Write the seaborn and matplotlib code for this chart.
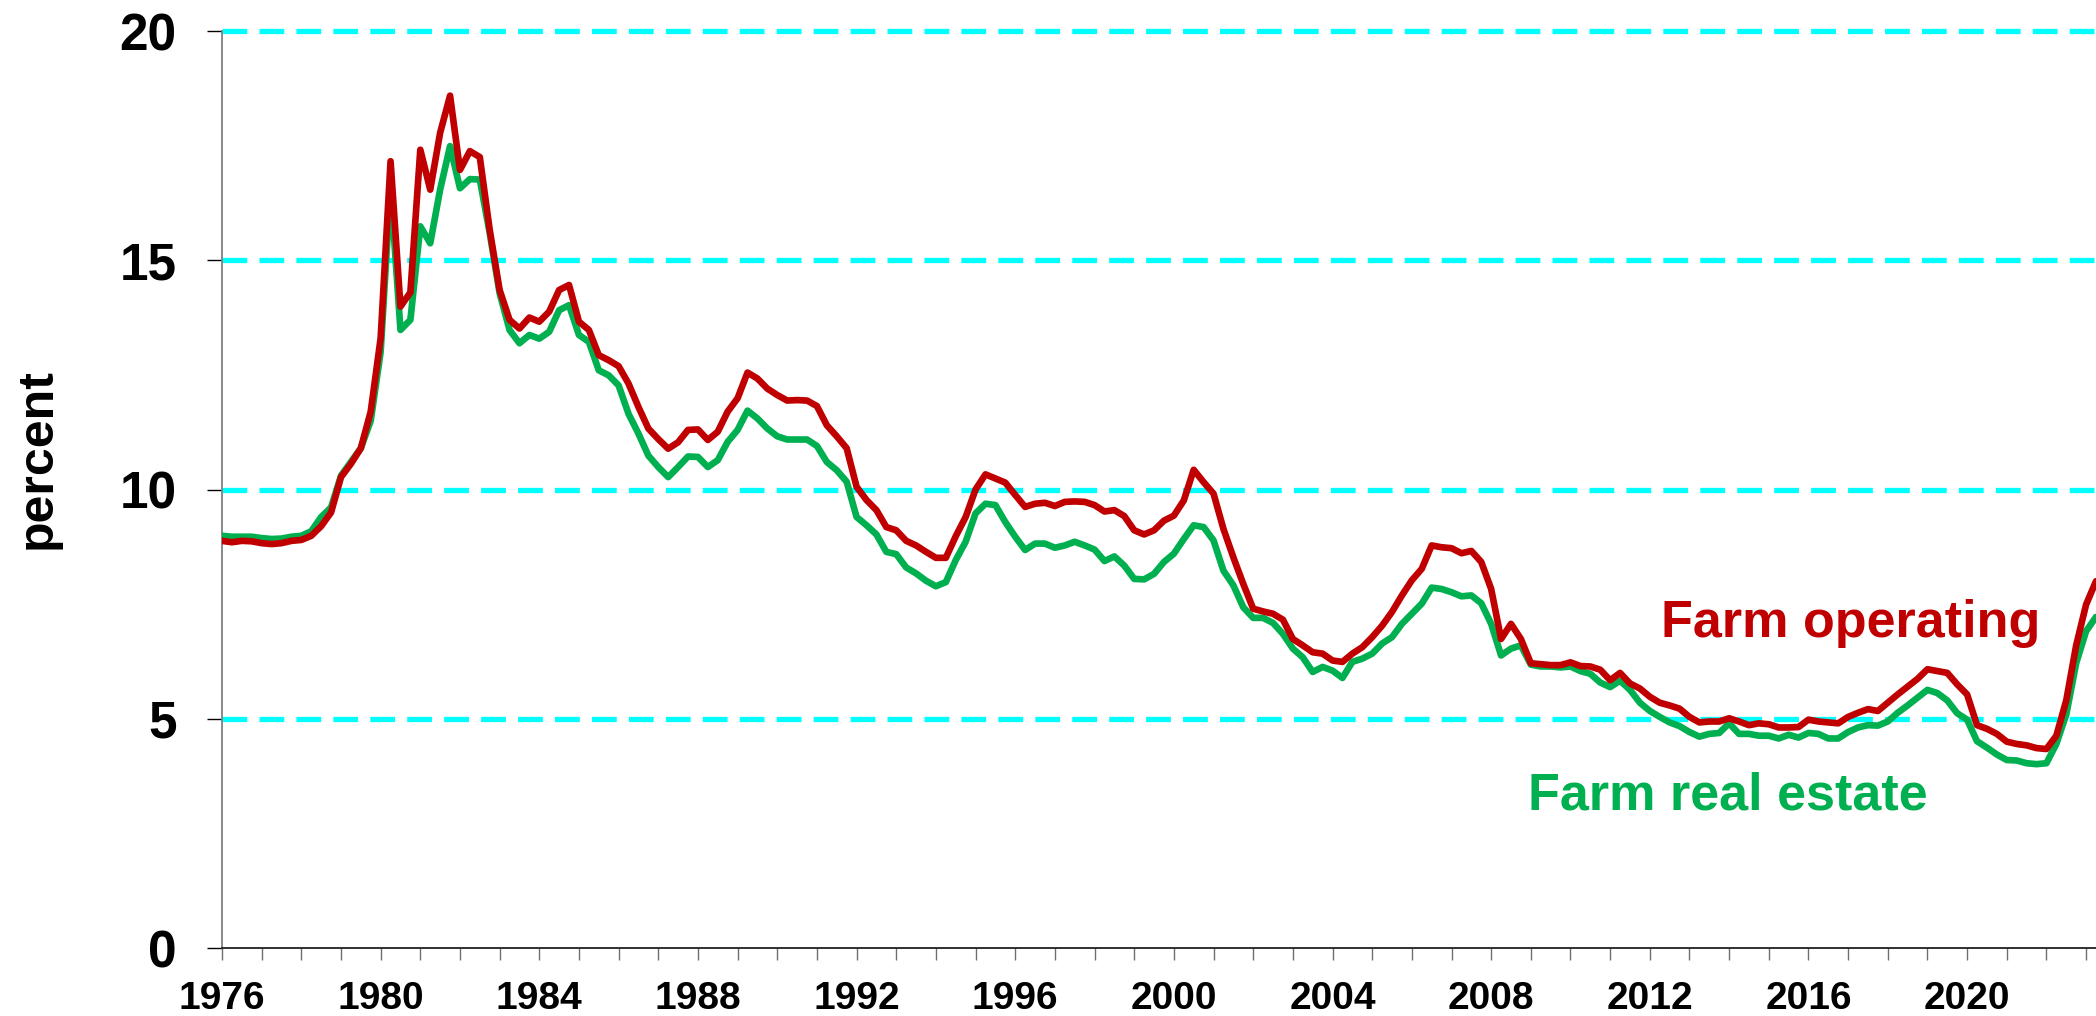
import numpy as np
import pandas as pd
import matplotlib
matplotlib.use("Agg")
import matplotlib.pyplot as plt
import seaborn as sns

# Quarterly interest rates on farm loans, percent (1976 Q1 onward)
start_year = 1976
farm_operating = [
    8.88, 8.85, 8.88, 8.87,   # 1976
    8.83, 8.81, 8.83, 8.88,   # 1977
    8.90, 8.99, 9.20, 9.50,   # 1978
    10.27, 10.56, 10.90, 11.70,  # 1979
    13.30, 17.16, 13.99, 14.30,  # 1980
    17.41, 16.54, 17.78, 18.59,  # 1981
    16.97, 17.38, 17.25, 15.66,  # 1982
    14.35, 13.70, 13.51, 13.75,  # 1983
    13.66, 13.88, 14.35, 14.46,  # 1984
    13.66, 13.48, 12.93, 12.82,  # 1985
    12.69, 12.31, 11.80, 11.33,  # 1986
    11.10, 10.89, 11.03, 11.30,  # 1987
    11.31, 11.08, 11.26, 11.70,  # 1988
    11.99, 12.55, 12.42, 12.20,  # 1989
    12.06, 11.94, 11.95, 11.94,  # 1990
    11.82, 11.40, 11.16, 10.90,  # 1991
    10.06, 9.77, 9.55, 9.18,  # 1992
    9.11, 8.88, 8.78, 8.64,   # 1993
    8.51, 8.51, 8.98, 9.40,   # 1994
    10.00, 10.33, 10.24, 10.15,  # 1995
    9.88, 9.62, 9.69, 9.71,   # 1996
    9.64, 9.73, 9.74, 9.73,   # 1997
    9.66, 9.52, 9.55, 9.42,   # 1998
    9.11, 9.02, 9.11, 9.32,   # 1999
    9.43, 9.76, 10.43, 10.16,  # 2000
    9.91, 9.14, 8.52, 7.94,   # 2001
    7.40, 7.34, 7.29, 7.16,   # 2002
    6.74, 6.60, 6.45, 6.42,   # 2003
    6.27, 6.24, 6.42, 6.56,   # 2004
    6.78, 7.03, 7.33, 7.69,   # 2005
    8.02, 8.27, 8.78, 8.74,   # 2006
    8.72, 8.61, 8.66, 8.42,   # 2007
    7.83, 6.74, 7.07, 6.74,   # 2008
    6.21, 6.19, 6.17, 6.17,   # 2009
    6.23, 6.15, 6.14, 6.07,   # 2010
    5.84, 6.00, 5.77, 5.66,   # 2011
    5.48, 5.35, 5.29, 5.22,   # 2012
    5.04, 4.92, 4.94, 4.94,   # 2013
    5.01, 4.94, 4.86, 4.90,   # 2014
    4.88, 4.81, 4.81, 4.82,   # 2015
    4.98, 4.94, 4.92, 4.90,   # 2016
    5.04, 5.13, 5.21, 5.17,   # 2017
    5.35, 5.53, 5.70, 5.87,   # 2018
    6.08, 6.04, 6.00, 5.75,   # 2019
    5.53, 4.86, 4.78, 4.67,   # 2020
    4.50, 4.45, 4.42, 4.36,   # 2021
    4.34, 4.63, 5.40, 6.60,   # 2022
    7.49, 8.00,               # 2023
]
farm_real_estate = [
    8.99, 8.97, 8.97, 8.97,   # 1976
    8.94, 8.92, 8.93, 8.97,   # 1977
    8.99, 9.09, 9.40, 9.61,   # 1978
    10.30, 10.60, 10.90, 11.50,  # 1979
    13.00, 16.60, 13.48, 13.70,  # 1980
    15.74, 15.37, 16.54, 17.49,  # 1981
    16.57, 16.77, 16.76, 15.59,  # 1982
    14.28, 13.48, 13.19, 13.37,  # 1983
    13.29, 13.44, 13.91, 14.02,  # 1984
    13.37, 13.22, 12.60, 12.49,  # 1985
    12.27, 11.65, 11.22, 10.74,  # 1986
    10.49, 10.27, 10.49, 10.72,  # 1987
    10.71, 10.49, 10.64, 11.04,  # 1988
    11.30, 11.72, 11.55, 11.33,  # 1989
    11.16, 11.09, 11.09, 11.09,  # 1990
    10.95, 10.60, 10.42, 10.17,  # 1991
    9.40, 9.22, 9.02, 8.64,   # 1992
    8.59, 8.30, 8.17, 8.01,   # 1993
    7.89, 7.98, 8.46, 8.86,   # 1994
    9.48, 9.69, 9.66, 9.29,   # 1995
    8.97, 8.68, 8.82, 8.82,   # 1996
    8.73, 8.78, 8.86, 8.78,   # 1997
    8.69, 8.44, 8.54, 8.34,   # 1998
    8.05, 8.04, 8.16, 8.42,   # 1999
    8.60, 8.92, 9.22, 9.18,   # 2000
    8.89, 8.23, 7.91, 7.43,   # 2001
    7.20, 7.20, 7.09, 6.85,   # 2002
    6.53, 6.34, 6.02, 6.13,   # 2003
    6.05, 5.89, 6.24, 6.31,   # 2004
    6.42, 6.64, 6.78, 7.07,   # 2005
    7.29, 7.51, 7.86, 7.83,   # 2006
    7.76, 7.67, 7.69, 7.52,   # 2007
    7.07, 6.38, 6.53, 6.60,   # 2008
    6.18, 6.14, 6.14, 6.12,   # 2009
    6.14, 6.04, 5.98, 5.79,   # 2010
    5.69, 5.83, 5.63, 5.35,   # 2011
    5.17, 5.04, 4.92, 4.84,   # 2012
    4.71, 4.61, 4.67, 4.69,   # 2013
    4.90, 4.67, 4.67, 4.63,   # 2014
    4.63, 4.57, 4.65, 4.59,   # 2015
    4.69, 4.67, 4.57, 4.57,   # 2016
    4.71, 4.81, 4.86, 4.85,   # 2017
    4.94, 5.13, 5.29, 5.46,   # 2018
    5.63, 5.56, 5.40, 5.12,   # 2019
    4.98, 4.51, 4.37, 4.22,   # 2020
    4.10, 4.09, 4.03, 4.01,   # 2021
    4.03, 4.45, 5.09, 6.21,   # 2022
    6.91, 7.22,               # 2023
]

grid_levels = [5, 10, 15, 20]
y_ticks = [0, 5, 10, 15, 20]
x_label_years = list(range(1976, 2024, 4))

quarter = start_year + np.arange(len(farm_operating)) / 4.0
df = pd.DataFrame({
    "quarter": quarter,
    "Farm operating": farm_operating,
    "Farm real estate": farm_real_estate,
})

sns.set_theme(style="white")
plt.rcParams["font.family"] = ["Liberation Sans", "DejaVu Sans"]
plt.rcParams["font.weight"] = "bold"
plt.rcParams["text.color"] = "black"
plt.rcParams["axes.labelcolor"] = "black"

RED = "#C00000"
GREEN = "#00B050"
CYAN = "#00FFFF"

fig = plt.figure(figsize=(20.96, 10.16), dpi=100)
ax = fig.add_axes([222 / 2096, 1 - 948 / 1016, 1 - 222 / 2096, (948 - 31) / 1016])

for lvl in grid_levels:
    ax.axhline(lvl, color=CYAN, lw=3.8, linestyle=(0, (4.7, 2.3)),
               zorder=1, clip_on=False)

sns.lineplot(data=df, x="quarter", y="Farm real estate", ax=ax,
             color=GREEN, lw=4.8, legend=False, zorder=3)
sns.lineplot(data=df, x="quarter", y="Farm operating", ax=ax,
             color=RED, lw=4.8, legend=False, zorder=4)

ax.set_xlim(start_year, quarter[-1])
ax.set_ylim(0, 20)

ax.set_yticks(y_ticks)
ax.set_yticklabels([str(v) for v in y_ticks], fontsize=37, fontweight="bold")
ax.set_xticks(x_label_years)
ax.set_xticklabels([str(v) for v in x_label_years], fontsize=28, fontweight="bold")
ax.set_xticks(range(1976, 2024), minor=True)

ax.tick_params(axis="y", which="major", direction="out", length=10.8, width=1.0,
               color="black", labelcolor="black", pad=22, left=True)
ax.tick_params(axis="x", which="both", direction="out", length=8.6, width=1.0,
               color="#707070", labelcolor="black", pad=15, bottom=True)

for side in ("top", "right"):
    ax.spines[side].set_visible(False)
ax.spines["left"].set_color("#808080")
ax.spines["left"].set_linewidth(1.3)
ax.spines["bottom"].set_color("#202020")
ax.spines["bottom"].set_linewidth(1.3)

ax.set_xlabel("")
ax.set_ylabel("percent", fontsize=36, fontweight="bold", color="black")
ax.yaxis.set_label_coords(-0.086, 0.534)

ax.text(2012.28, 6.78, "Farm operating", color=RED, fontsize=37.5,
        fontweight="bold", ha="left", va="baseline", zorder=5)
ax.text(2008.93, 3.01, "Farm real estate", color=GREEN, fontsize=37.5,
        fontweight="bold", ha="left", va="baseline", zorder=5)

fig.savefig("out.png", dpi=100)
